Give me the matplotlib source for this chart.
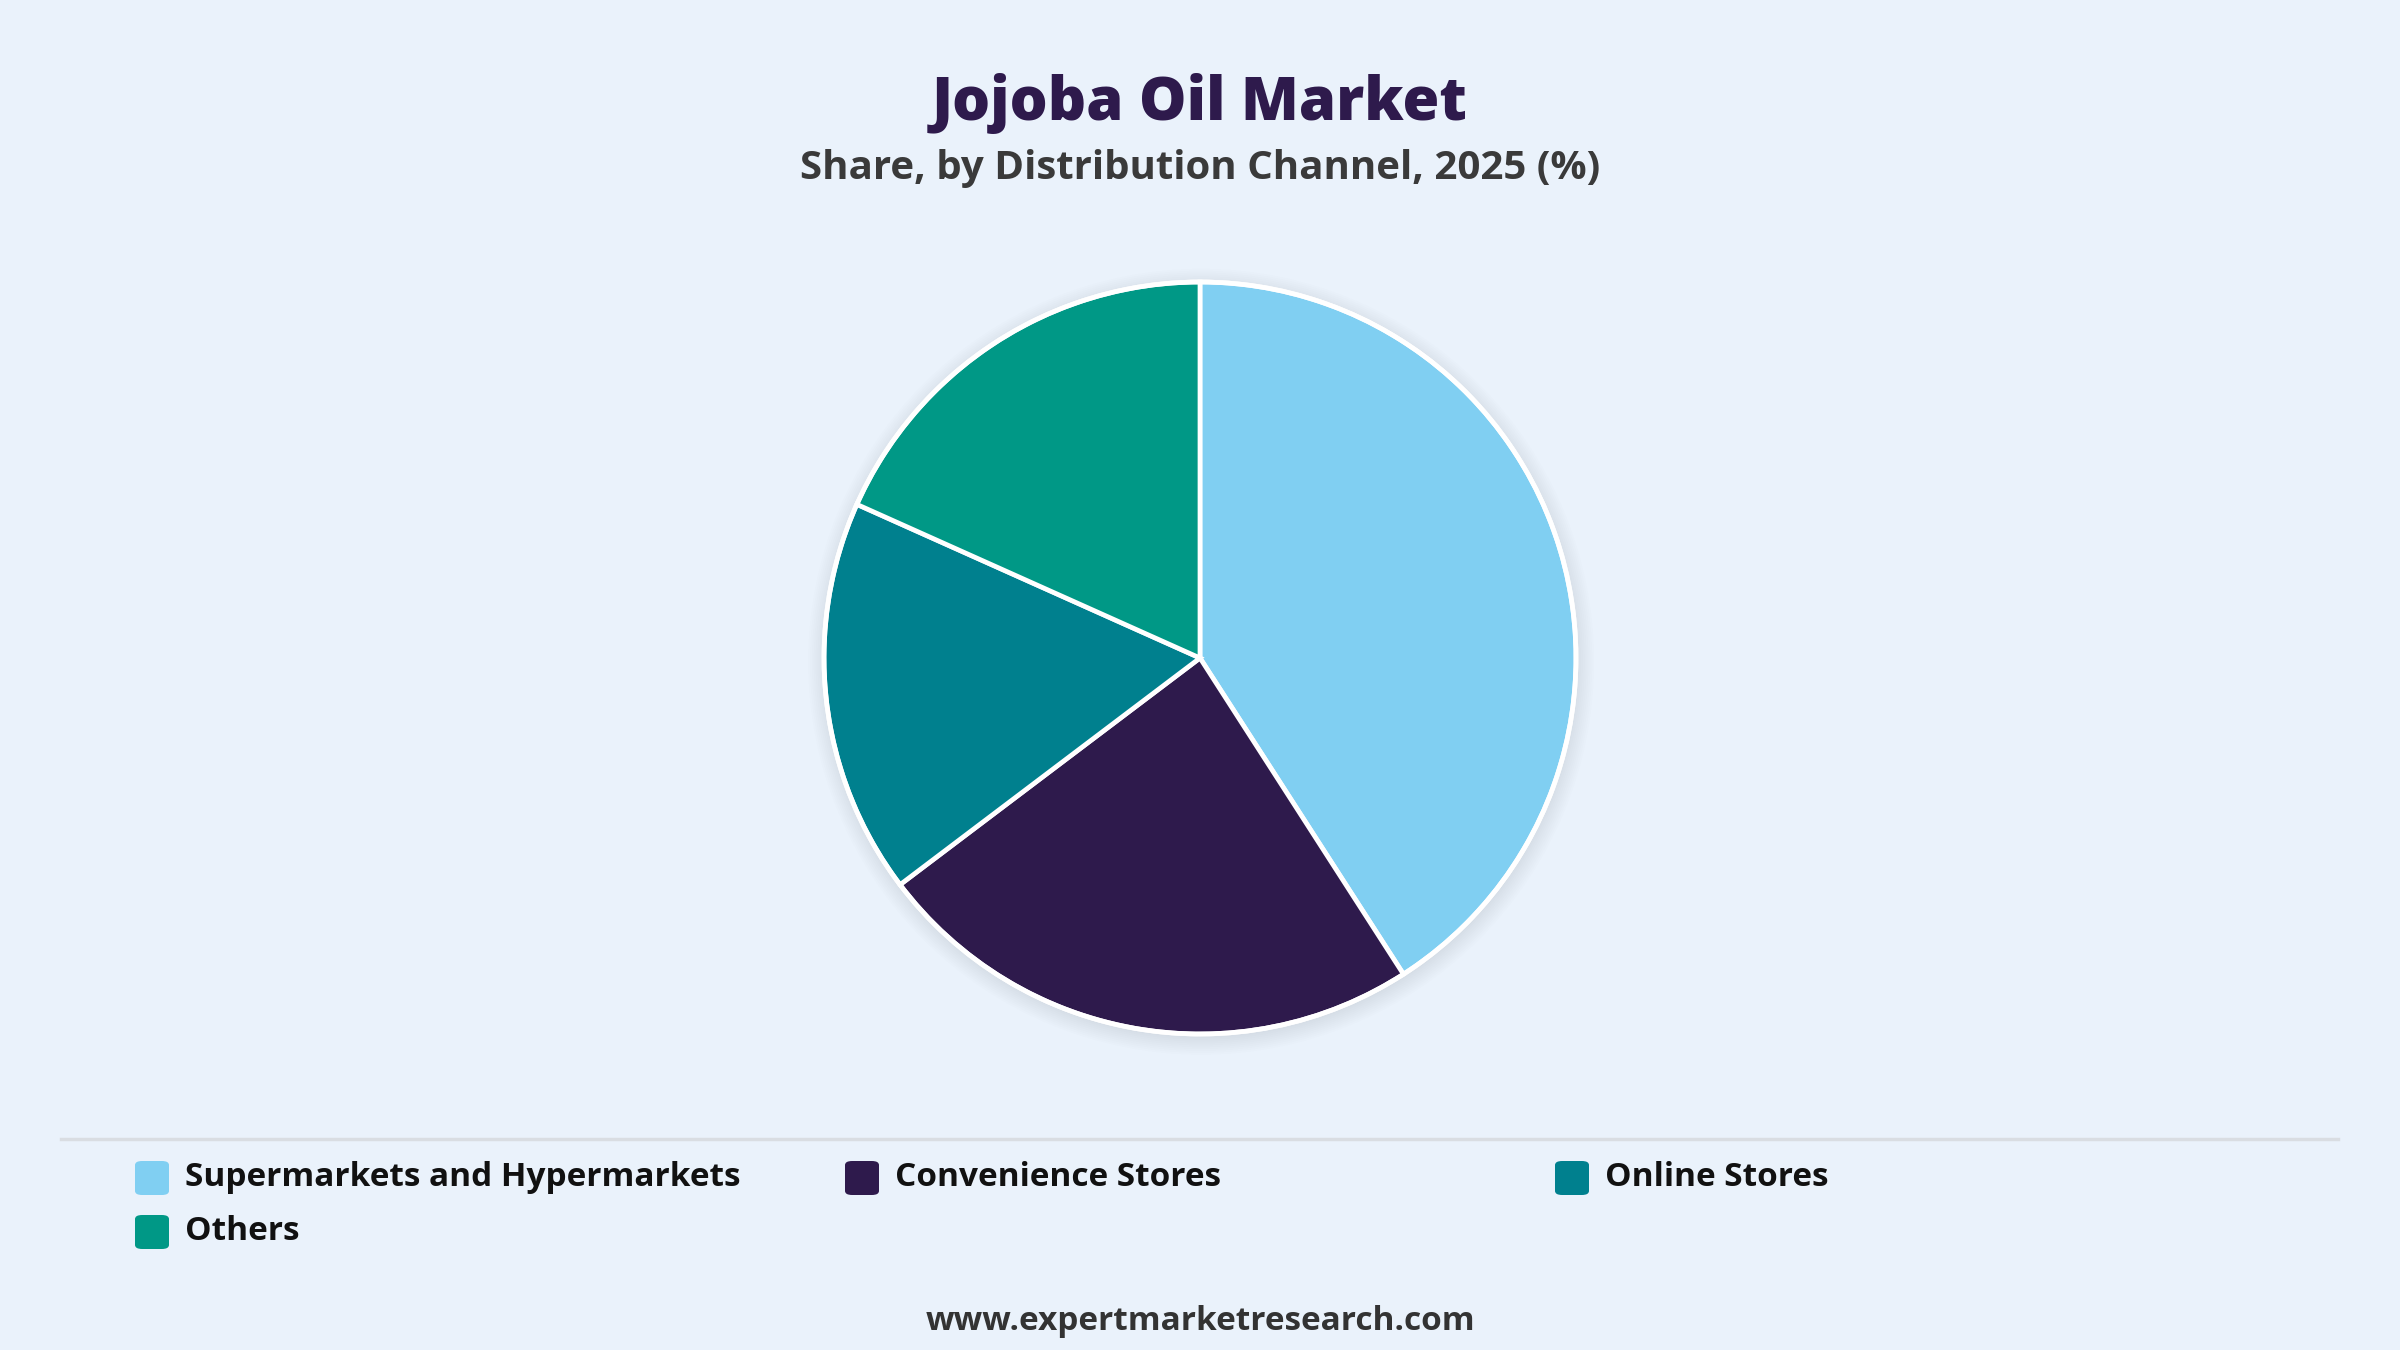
import matplotlib
matplotlib.use("Agg")
import matplotlib.pyplot as plt
from matplotlib.patches import Circle, FancyBboxPatch
from matplotlib.lines import Line2D

plt.rcParams['font.family'] = ['Open Sans', 'DejaVu Sans']

# data
channels = ["Supermarkets and Hypermarkets", "Convenience Stores", "Online Stores", "Others"]
shares = [40.9, 23.8, 17.0, 18.3]
colors = ["#80CFF2", "#2E1A4C", "#00808E", "#009886"]

bg = "#EAF2FB"
W, H = 2400, 1350

fig = plt.figure(figsize=(24, 13.5), dpi=100, facecolor=bg)

# titles
fig.text(0.5, 1 - 103 / H, "Jojoba Oil Market", ha="center", va="center",
         fontsize=43, fontweight=800, color="#2E1A4C")
fig.text(0.5, 1 - 168 / H, "Share, by Distribution Channel, 2025 (%)", ha="center", va="center",
         fontsize=29, fontweight="bold", color="#3A3A3A")

# pie axes: centre (1200, 658) px, radius 376 px
cx, cy, r = 1200, 658, 376
ax = fig.add_axes([0, 0, 1, 1])
ax.set_facecolor(bg)

# soft shadow behind pie
for k in range(10):
    ax.add_patch(Circle((0.003, -0.01), 1.0 + 0.005 * k, color="#9aa6b4",
                        alpha=0.025, lw=0, zorder=0))

ax.pie(shares, colors=colors, startangle=90, counterclock=False,
       wedgeprops=dict(edgecolor="white", linewidth=3.4, zorder=2))
ax.add_patch(Circle((0, 0), 1.0, fill=False, ec="white", lw=3.4, zorder=3))
ax.set_xlim(-1.08, 1.08)
ax.set_ylim(-1.08, 1.08)
ax.set_aspect("equal")
ax.axis("off")
ax.set_position([(cx - r * 1.08) / W, (H - cy - r * 1.08) / H, 2 * r * 1.08 / W, 2 * r * 1.08 / H])

# separator line
fig.add_artist(Line2D([61 / W, 2338 / W], [1 - 1139 / H, 1 - 1139 / H],
                      color="#D9DDE2", lw=2.5))

# legend, built by hand in three columns
col_x = [135, 845, 1555]
row_y = [1178, 1232]
for i, (lab, c) in enumerate(zip(channels, colors)):
    x = col_x[i % 3]
    y = row_y[i // 3]
    fig.add_artist(FancyBboxPatch((x / W, 1 - (y + 17) / H), 34 / W, 34 / H,
                                  boxstyle="round,pad=0,rounding_size=0.003",
                                  fc=c, ec="none", transform=fig.transFigure))
    fig.text((x + 50) / W, 1 - y / H, lab, ha="left", va="center",
             fontsize=24, fontweight="bold", color="#111111")

fig.text(0.5, 1 - 1321 / H, "www.expertmarketresearch.com", ha="center", va="center",
         fontsize=24, fontweight="bold", color="#333333")

fig.savefig("out.png", dpi=100, facecolor=bg)
